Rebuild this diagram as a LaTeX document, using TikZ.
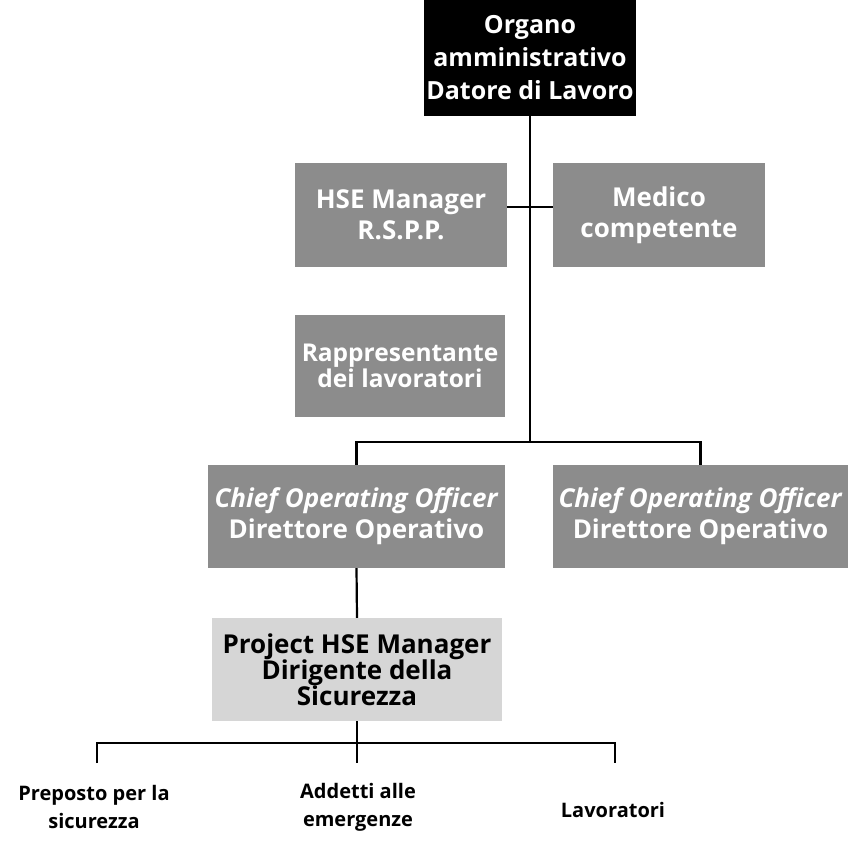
\documentclass[tikz,border=0pt]{standalone}
\usepackage{fontspec}
\setmainfont{Open Sans}
\definecolor{midgray}{HTML}{8C8C8C}
\definecolor{lightgray}{HTML}{D6D6D6}
\begin{document}
\begin{tikzpicture}[x=1pt,y=-1pt,
  box/.style={rectangle, inner sep=0pt, align=center,
    font=\bfseries\fontsize{26}{31}\selectfont},
  dark/.style={box, fill=black, text=white},
  mid/.style={box, fill=midgray, text=white},
  light/.style={box, fill=lightgray, text=black},
  link/.style={line width=2.2pt, black},
  lbl/.style={align=center, font=\bfseries\fontsize{20}{28}\selectfont}]
\useasboundingbox (0,0) rectangle (849,842);

% top of the chart
\node[dark, minimum width=212, minimum height=116,
  font=\bfseries\fontsize{25}{33}\selectfont] (org) at (530,58)
  {Organo\\amministrativo\\Datore di Lavoro};

% staff functions
\node[mid, minimum width=212, minimum height=104] (hse) at (401,215)
  {HSE Manager\\R.S.P.P.};
\node[mid, minimum width=212, minimum height=104] (med) at (659,215)
  {Medico\\competente};
\node[mid, minimum width=210, minimum height=102,
  font=\bfseries\fontsize{24.5}{26}\selectfont] (rls) at (400,366)
  {Rappresentante\\dei lavoratori};

% operations
\node[mid, minimum width=297, minimum height=103] (cooL) at (356.5,516.5)
  {\textit{Chief Operating Officer}\\Direttore Operativo};
\node[mid, minimum width=295, minimum height=103] (cooR) at (700.5,516.5)
  {\textit{Chief Operating Officer}\\Direttore Operativo};

\node[light, minimum width=290, minimum height=103,
  font=\bfseries\fontsize{26}{26}\selectfont] (proj) at (357,669.5)
  {Project HSE Manager\\Dirigente della\\Sicurezza};

% bottom level
\node[lbl] (prep) at (94,807) {Preposto per la\\sicurezza};
\node[lbl] (add) at (358,807) {Addetti alle\\emergenze};
\node[lbl] (lav) at (613,810) {Lavoratori};

% connectors
\coordinate (j1) at (530,442);
\coordinate (dL) at (97,763);
\coordinate (dM) at (357,763);
\coordinate (dR) at (615,763);

\draw[link] (org.south) -- (j1);
\draw[link] ([yshift=8pt]hse.east) -- ([yshift=8pt]med.west);
\draw[link] (cooL.north) -- ++(0,-23) -| (cooR.north);
\draw[link] (cooL.south) -- (proj.north);
\draw[link] (proj.south) -- (dM);
\draw[link] (dL) -- ++(0,-20) -| (dR);
\end{tikzpicture}
\end{document}
